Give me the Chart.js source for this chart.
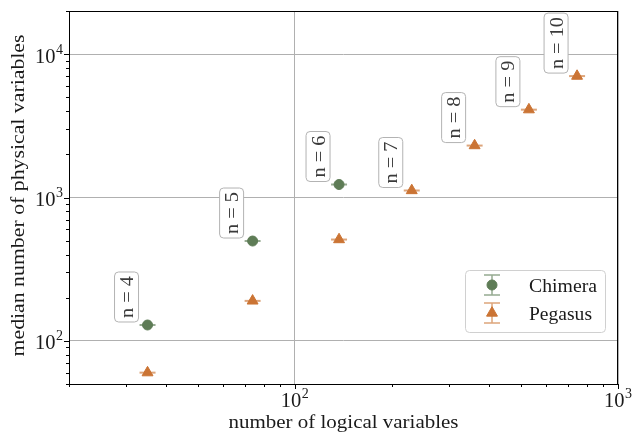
<!DOCTYPE html>
<html>
<head>
<meta charset="utf-8">
<script src="https://cdn.jsdelivr.net/npm/chart.js@4/dist/chart.umd.min.js"></script>
<style>
html,body{margin:0;padding:0;background:#fff;}
#wrap{width:634px;height:435px;}
</style>
</head>
<body>
<div id="wrap"><canvas id="c" width="634" height="435"></canvas></div>
<script>
// ---- data ----
const nValues = [4, 5, 6, 7, 8, 9, 10];
const chimeraX = [35, 74, 137];
const chimeraY = [129, 497, 1232];
const pegasusX = [35, 74, 137, 230, 360, 530, 747];
const pegasusY = [60, 190, 509, 1119, 2303, 4100, 7030];
const xMajorExp = [2, 3];
const yMajorExp = [2, 3, 4];
const seriesNames = ['Chimera', 'Pegasus'];
const xTitle = 'number of logical variables';
const yTitle = 'median number of physical variables';

const GREEN = '#5e7c56';
const ORANGE = '#cb7434';
const GREEN_L = 'rgba(94,124,86,0.65)';
const ORANGE_L = 'rgba(203,116,52,0.65)';
const SERIF = '"Liberation Serif", "DejaVu Serif", serif';

function isMajor(v){ const l = Math.log10(v); return Math.abs(l - Math.round(l)) < 1e-9; }

function fitText(ctx, text, x, y, size, targetW, align, rot){
  ctx.save();
  ctx.font = size + 'px ' + SERIF;
  const w = ctx.measureText(text).width;
  const sx = targetW ? targetW / w : 1;
  ctx.translate(x, y);
  ctx.rotate(rot || 0);
  ctx.scale(sx, 1);
  ctx.textAlign = align || 'left';
  ctx.textBaseline = 'alphabetic';
  ctx.fillText(text, 0, 0);
  ctx.restore();
}

function drawPow(ctx, exp, x, y, mode){
  ctx.save();
  ctx.fillStyle = '#1a1a1a';
  ctx.font = '20.5px ' + SERIF;
  const wb = ctx.measureText('10').width;
  ctx.font = '14px ' + SERIF;
  const ws = ctx.measureText(String(exp)).width;
  const total = wb + ws + 0.5;
  let sx, base;
  if (mode === 'x'){ sx = x - total/2; base = 407; }
  else { sx = 63 - total; base = y + 8.5; }
  ctx.textAlign = 'left'; ctx.textBaseline = 'alphabetic';
  ctx.font = '20.5px ' + SERIF;
  ctx.fillText('10', sx, base);
  ctx.font = '14px ' + SERIF;
  ctx.fillText(String(exp), sx + wb + 0.5, base - 9);
  ctx.restore();
}

function drawTri(ctx, x, y, r, color){
  ctx.save();
  ctx.fillStyle = color; ctx.strokeStyle = color; ctx.lineWidth = 1;
  ctx.beginPath();
  for (let i = 0; i < 3; i++){
    const a = i * 2 * Math.PI / 3;
    const px = x + Math.sin(a) * r, py = y - Math.cos(a) * r;
    if (i === 0) ctx.moveTo(px, py); else ctx.lineTo(px, py);
  }
  ctx.closePath(); ctx.fill(); ctx.stroke();
  ctx.restore();
}
function drawCirc(ctx, x, y, r, color){
  ctx.save(); ctx.fillStyle = color; ctx.strokeStyle = color;
  ctx.beginPath(); ctx.arc(x, y, r, 0, Math.PI*2); ctx.fill(); ctx.stroke(); ctx.restore();
}
function hline(ctx, x1, x2, y, color, lw){
  ctx.save(); ctx.strokeStyle = color; ctx.lineWidth = lw; ctx.beginPath();
  ctx.moveTo(x1, y); ctx.lineTo(x2, y); ctx.stroke(); ctx.restore();
}
function roundBox(ctx, x, y, w, h, r, stroke, fill){
  ctx.save();
  ctx.beginPath();
  ctx.moveTo(x + r, y); ctx.lineTo(x + w - r, y); ctx.arcTo(x + w, y, x + w, y + r, r);
  ctx.lineTo(x + w, y + h - r); ctx.arcTo(x + w, y + h, x + w - r, y + h, r);
  ctx.lineTo(x + r, y + h); ctx.arcTo(x, y + h, x, y + h - r, r);
  ctx.lineTo(x, y + r); ctx.arcTo(x, y, x + r, y, r);
  ctx.closePath();
  ctx.fillStyle = fill; ctx.fill();
  ctx.strokeStyle = stroke; ctx.lineWidth = 1; ctx.stroke();
  ctx.restore();
}

const decor = {
  id: 'decor',
  beforeDatasetsDraw(chart){
    const ctx = chart.ctx, xs = chart.scales.x, ys = chart.scales.y;
    for (let i = 0; i < chimeraX.length; i++){
      const px = xs.getPixelForValue(chimeraX[i]), py = ys.getPixelForValue(chimeraY[i]);
      hline(ctx, px - 8, px + 8, py, GREEN_L, 2);
    }
    for (let i = 0; i < pegasusX.length; i++){
      const px = xs.getPixelForValue(pegasusX[i]), py = ys.getPixelForValue(pegasusY[i]);
      hline(ctx, px - 8, px + 8, py, ORANGE_L, 2);
    }
  },
  afterDraw(chart){
    const ctx = chart.ctx, xs = chart.scales.x, ys = chart.scales.y, a = chart.chartArea;
    ctx.save();
    ctx.strokeStyle = '#000'; ctx.lineWidth = 1;
    ctx.strokeRect(Math.round(a.left) + 0.5, Math.round(a.top) + 0.5,
                   Math.round(a.right - a.left) - 1, Math.round(a.bottom - a.top));
    ctx.beginPath();
    for (let d = 1; d <= 3; d++){
      for (let m = 1; m <= 9; m++){
        const v = m * Math.pow(10, d);
        if (v < xs.min - 1e-9 || v > xs.max + 1e-9) continue;
        const px = Math.round(xs.getPixelForValue(v)) + 0.5;
        const len = m === 1 ? 5 : 3;
        ctx.moveTo(px, a.bottom); ctx.lineTo(px, a.bottom + len);
      }
    }
    for (let d = 1; d <= 4; d++){
      for (let m = 1; m <= 9; m++){
        const v = m * Math.pow(10, d);
        if (v < ys.min - 1e-9 || v > ys.max + 1e-9) continue;
        const py = Math.round(ys.getPixelForValue(v)) + 0.5;
        const len = m === 1 ? 5 : 3;
        ctx.moveTo(a.left, py); ctx.lineTo(a.left - len, py);
      }
    }
    ctx.stroke();
    ctx.restore();
    xMajorExp.forEach(e => drawPow(ctx, e, xs.getPixelForValue(Math.pow(10, e)), 0, 'x'));
    yMajorExp.forEach(e => drawPow(ctx, e, 0, ys.getPixelForValue(Math.pow(10, e)), 'y'));
    ctx.fillStyle = '#1a1a1a';
    fitText(ctx, xTitle, (a.left + a.right) / 2, 428, 19, 230, 'center', 0);
    fitText(ctx, yTitle, 24, (a.top + a.bottom) / 2 - 2, 19, 322, 'center', -Math.PI / 2);
    nValues.forEach((n, i) => {
      let px, py;
      if (i < chimeraX.length){ px = xs.getPixelForValue(chimeraX[i]); py = ys.getPixelForValue(chimeraY[i]); }
      else { px = xs.getPixelForValue(pegasusX[i]); py = ys.getPixelForValue(pegasusY[i]); }
      const label = 'n = ' + n;
      const len = n >= 10 ? 60 : 50;
      const bw = 24;
      const right = px - 9, bottom = py - 3;
      roundBox(ctx, right - bw, bottom - len, bw, len, 4, '#b3b3b3', '#ffffff');
      ctx.fillStyle = '#3a3a3a';
      fitText(ctx, label, right - bw / 2 + 6.5, bottom - len / 2, 19, len - 8, 'center', -Math.PI / 2);
    });
    roundBox(ctx, 465.5, 270.5, 140, 62, 4, '#d0d0d0', 'rgba(255,255,255,0.85)');
    const ix = 492;
    [[285, GREEN, GREEN_L, 'c'], [313, ORANGE, ORANGE_L, 't']].forEach(([cy, col, lc, shp], k) => {
      ctx.save(); ctx.strokeStyle = lc; ctx.lineWidth = 1.5;
      ctx.beginPath(); ctx.moveTo(ix, cy - 10); ctx.lineTo(ix, cy + 10);
      ctx.moveTo(ix - 8, cy - 10); ctx.lineTo(ix + 8, cy - 10);
      ctx.moveTo(ix - 8, cy + 10); ctx.lineTo(ix + 8, cy + 10);
      ctx.stroke(); ctx.restore();
      if (shp === 'c') drawCirc(ctx, ix, cy, 5, col); else drawTri(ctx, ix, cy, 6.3, col);
      ctx.fillStyle = '#1a1a1a';
      fitText(ctx, seriesNames[k], 529, cy + 7, 18, k === 0 ? 68 : 63, 'left', 0);
    });
  }
};

const chimeraPts = chimeraX.map((x, i) => ({x: x, y: chimeraY[i]}));
const pegasusPts = pegasusX.map((x, i) => ({x: x, y: pegasusY[i]}));

new Chart(document.getElementById('c'), {
  type: 'scatter',
  data: {
    datasets: [
      { label: seriesNames[0], data: chimeraPts, pointStyle: 'circle', pointRadius: 5,
        backgroundColor: GREEN, borderColor: GREEN, borderWidth: 1, pointHoverRadius: 5 },
      { label: seriesNames[1], data: pegasusPts, pointStyle: 'triangle', pointRadius: 6.3,
        backgroundColor: ORANGE, borderColor: ORANGE, borderWidth: 1, pointHoverRadius: 6.3 }
    ]
  },
  options: {
    responsive: false,
    animation: false,
    devicePixelRatio: 1,
    layout: { padding: { left: 69, right: 16, top: 11, bottom: 51 } },
    plugins: { legend: { display: false }, tooltip: { enabled: false } },
    scales: {
      x: {
        type: 'logarithmic', min: 20, max: 1000,
        ticks: { display: false },
        border: { display: false },
        grid: { drawTicks: false, lineWidth: 1,
                color: c => (c.tick && isMajor(c.tick.value)) ? '#b0b0b0' : 'rgba(0,0,0,0)' },
        afterFit: s => { s.height = 0; }
      },
      y: {
        type: 'logarithmic', min: 50, max: 20000,
        ticks: { display: false },
        border: { display: false },
        grid: { drawTicks: false, lineWidth: 1,
                color: c => (c.tick && isMajor(c.tick.value)) ? '#b0b0b0' : 'rgba(0,0,0,0)' },
        afterFit: s => { s.width = 0; }
      }
    }
  },
  plugins: [decor]
});
</script>
</body>
</html>
